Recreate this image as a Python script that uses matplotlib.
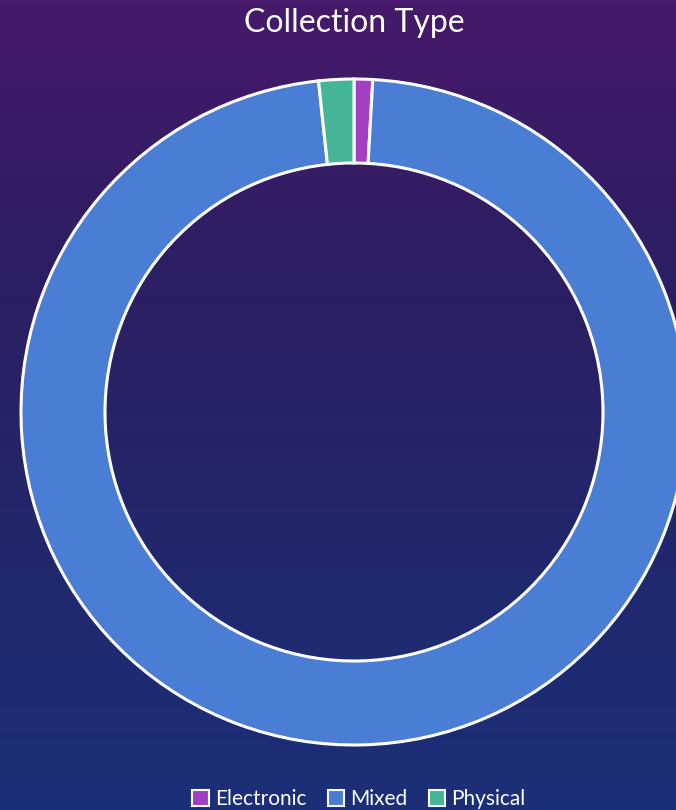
import numpy as np
import matplotlib.pyplot as plt
from matplotlib.patches import Patch
from matplotlib.colors import LinearSegmentedColormap

labels = ['Electronic', 'Mixed', 'Physical']
shares = [0.9, 97.4, 1.7]
colors = ['#a23fc2', '#4a7ed4', '#45b598']

W, H = 676, 810
fig = plt.figure(figsize=(W / 100, H / 100), dpi=100)
ax = fig.add_axes([0, 0, 1, 1])

# background: purple at top fading to deep blue at the bottom
bg = LinearSegmentedColormap.from_list('bg', ['#1b2f78', '#22276c', '#2c1e62', '#46196b'])
grad = np.linspace(0, 1, 256).reshape(-1, 1)
ax.imshow(grad, cmap=bg, extent=[0, W, 0, H], origin='lower', aspect='auto', zorder=0)

ax.pie(shares, colors=colors, startangle=90, counterclock=False,
       center=(354, H - 412), radius=333, frame=True,
       wedgeprops=dict(width=84, edgecolor='white', linewidth=2.2))
ax.set_xlim(0, W)
ax.set_ylim(0, H)
ax.axis('off')

fig.text(354 / W, 1 - 23 / H, 'Collection Type', color='white', fontsize=23,
         family='Lato', ha='center', va='center')

handles = [Patch(facecolor=c, edgecolor='white', linewidth=1.5) for c in colors]
fig.legend(handles, labels, loc='center', bbox_to_anchor=(359 / W, 1 - 799 / H), ncol=3,
           frameon=False, prop={'family': 'Lato', 'size': 15}, labelcolor='white',
           handlelength=0.8, handleheight=0.8, handletextpad=0.3, columnspacing=1.0)

fig.savefig('out.png', dpi=100)
